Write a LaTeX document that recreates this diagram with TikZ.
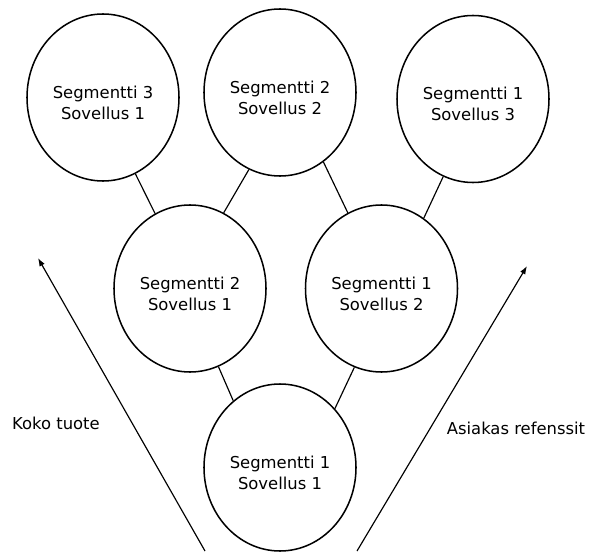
\documentclass[tikz,border=0pt]{standalone}
\usepackage{fontspec}
\setmainfont{DejaVu Sans}
\usetikzlibrary{shapes.geometric}
\usetikzlibrary{arrows.meta}
\usetikzlibrary{calc}

\begin{document}
\begin{tikzpicture}[x=0.03cm, y=0.03cm]

\tikzset{
  pnode/.style={draw, ellipse, line width=1.3pt, inner sep=0pt, align=center,
    minimum width=4.56cm, minimum height=5.01cm, text height=37pt,
    font=\fontsize{14}{17.9}\selectfont},
  link/.style={line width=1pt},
  axis/.style={line width=1pt, -{Latex[length=7pt, width=5pt]}},
  lbl/.style={font=\fontsize{14}{17.9}\selectfont},
}
\useasboundingbox (0, 0) rectangle (590, 551);

\node [pnode] (S3A1) at (103, 453.5) {Segmentti 3\\Sovellus 1};
\node [pnode] (S2A2) at (280, 458.5) {Segmentti 2\\Sovellus 2};
\node [pnode] (S1A3) at (473, 452) {Segmentti 1\\Sovellus 3};

\node [pnode] (S2A1) at (190, 262.5) {Segmentti 2\\Sovellus 1};
\node [pnode] (S1A2) at (381.5, 262.5) {Segmentti 1\\Sovellus 2};

\node [pnode] (S1A1) at (280, 83.5) {Segmentti 1\\Sovellus 1};

\draw [link] (S3A1.-67.8) -- (S2A1.115.8);
\draw [link] (S2A2.-112.7) -- (S2A1.66.4);
\draw [link] (S2A2.-58.2) -- (S1A2.114.2);
\draw [link] (S1A3.-111.5) -- (S1A2.59.5);

\draw [link] (S2A1.-70.6) -- (S1A1.125);
\draw [link] (S1A2.-109.3) -- (S1A1.47.3);

% axes
\coordinate (k0) at (205, 0);
\coordinate (k1) at (38, 293);
\coordinate (a0) at (357, 0);
\coordinate (a1) at (527, 285);
\draw [axis] (k0) -- (k1);
\draw [axis] (a0) -- (a1);

\node [lbl] (koko) at (56, 128) {Koko tuote};
\node [lbl] (asiakas) at (516, 123) {Asiakas refenssit};

\end{tikzpicture}
\end{document}
